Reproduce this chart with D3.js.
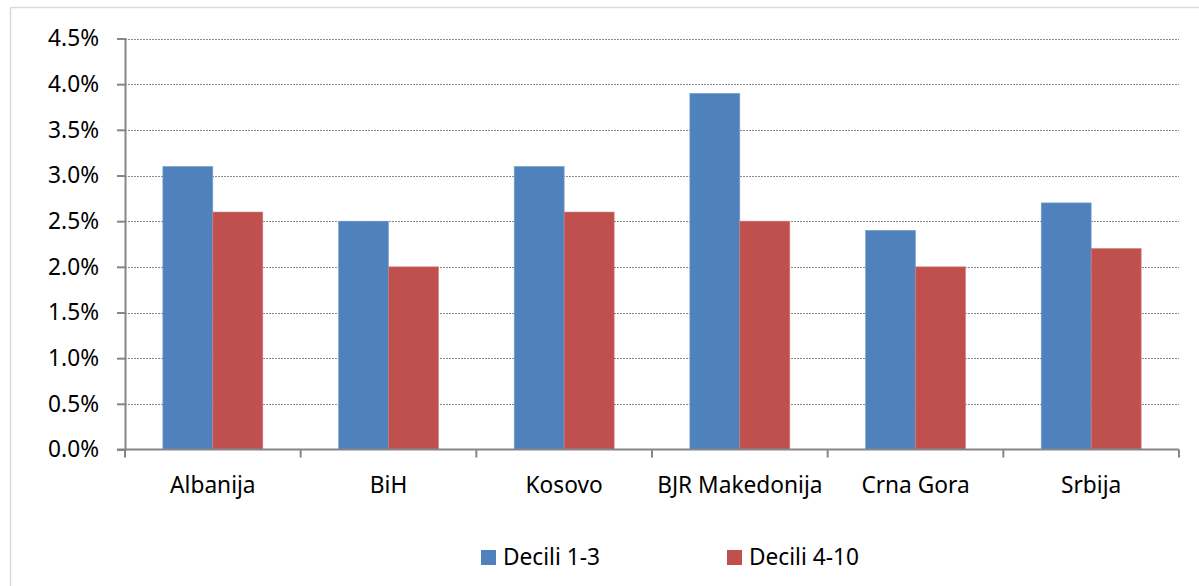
<!DOCTYPE html>
<html>
<head>
<meta charset="utf-8">
<script src="https://cdn.jsdelivr.net/npm/d3@7"></script>
<style>
  html, body { margin: 0; padding: 0; background: #fff; }
  svg { display: block; font-family: "Noto Sans", "Open Sans", sans-serif; }
</style>
</head>
<body>
<svg id="chart" width="1199" height="586"></svg>
<script>
// Categories and series values (percent)
const categories = ["Albanija", "BiH", "Kosovo", "BJR Makedonija", "Crna Gora", "Srbija"];
const seriesNames = ["Decili 1-3", "Decili 4-10"];
const decili13 = [3.1, 2.5, 3.1, 3.9, 2.4, 2.7];
const decili410 = [2.6, 2.0, 2.6, 2.5, 2.0, 2.2];
const yTicks = [0, 0.5, 1.0, 1.5, 2.0, 2.5, 3.0, 3.5, 4.0, 4.5];
const colors = ["#4F81BD", "#C0504D"];

const series = [decili13, decili410];
const FONT_SIZE = "22.7px";

const svg = d3.select("#chart");
const W = 1199, H = 586;
const plot = { left: 125, right: 1179, top: 38.5, bottom: 449.5 };

// Outer chart frame
svg.append("rect")
  .attr("x", 10.5).attr("y", 7.5)
  .attr("width", W + 20).attr("height", H + 20)
  .attr("fill", "#fff")
  .attr("stroke", "#d9d9d9").attr("stroke-width", 1.5);

const x = d3.scaleBand()
  .domain(categories)
  .range([plot.left, plot.right])
  .paddingInner(0.431)
  .paddingOuter(0.2155);

const x1 = d3.scaleBand()
  .domain(seriesNames)
  .range([0, x.bandwidth()]);

const y = d3.scaleLinear()
  .domain([0, 4.5])
  .range([plot.bottom, plot.top]);

// Dotted horizontal gridlines
svg.append("g")
  .selectAll("line")
  .data(yTicks.filter(t => t > 0))
  .join("line")
  .attr("x1", plot.left).attr("x2", plot.right)
  .attr("y1", d => Math.round(y(d)) + 0.5).attr("y2", d => Math.round(y(d)) + 0.5)
  .attr("stroke", "#8c8c8c")
  .attr("stroke-width", 1.2)
  .attr("stroke-dasharray", "2,1");

// Bars
const groups = svg.append("g")
  .selectAll("g")
  .data(categories)
  .join("g")
  .attr("transform", d => `translate(${x(d)},0)`);

groups.selectAll("rect")
  .data((d, i) => seriesNames.map((s, k) => ({ s, k, v: series[k][i] })))
  .join("rect")
  .attr("x", d => x1(d.s))
  .attr("width", x1.bandwidth())
  .attr("y", d => y(d.v))
  .attr("height", d => y(0) - y(d.v))
  .attr("fill", d => colors[d.k])
  .attr("stroke", d => d.k === 0 ? "#7ea3d3" : "#d17e7c")
  .attr("stroke-width", 0.6);

// Y axis
const yAxis = d3.axisLeft(y)
  .tickValues(yTicks)
  .tickSize(8)
  .tickPadding(18)
  .tickFormat(d => d.toFixed(1) + "%");

const gy = svg.append("g")
  .attr("transform", `translate(${plot.left},0)`)
  .call(yAxis);
gy.select(".domain").attr("stroke", "#868686").attr("stroke-width", 2);
gy.selectAll(".tick line").attr("stroke", "#868686").attr("stroke-width", 2);
gy.selectAll(".tick text")
  .attr("fill", "#000")
  .style("font-size", FONT_SIZE)
  .style("font-family", "'Noto Sans', sans-serif");

// X axis with ticks at category boundaries
const xAxisG = svg.append("g");
xAxisG.append("line")
  .attr("x1", plot.left - 8).attr("x2", plot.right)
  .attr("y1", plot.bottom).attr("y2", plot.bottom)
  .attr("stroke", "#868686").attr("stroke-width", 2);

const firstEdge = x(categories[0]) - x.step() * x.paddingOuter();
xAxisG.selectAll("line.b")
  .data(d3.range(categories.length + 1))
  .join("line")
  .attr("class", "b")
  .attr("x1", i => firstEdge + i * x.step())
  .attr("x2", i => firstEdge + i * x.step())
  .attr("y1", plot.bottom).attr("y2", plot.bottom + 8)
  .attr("stroke", "#868686").attr("stroke-width", 2);

xAxisG.selectAll("text")
  .data(categories)
  .join("text")
  .attr("x", d => x(d) + x.bandwidth() / 2)
  .attr("y", 493)
  .attr("text-anchor", "middle")
  .attr("fill", "#000")
  .style("font-size", FONT_SIZE)
  .text(d => d);

// Legend
const legendX = [481, 727];
const legend = svg.append("g")
  .selectAll("g")
  .data(seriesNames)
  .join("g")
  .attr("transform", (d, i) => `translate(${legendX[i]},550)`);
legend.append("rect")
  .attr("width", 15).attr("height", 15)
  .attr("fill", (d, i) => colors[i]);
legend.append("text")
  .attr("x", 22).attr("y", 15)
  .attr("fill", "#000")
  .style("font-size", FONT_SIZE)
  .text(d => d);
</script>
</body>
</html>
